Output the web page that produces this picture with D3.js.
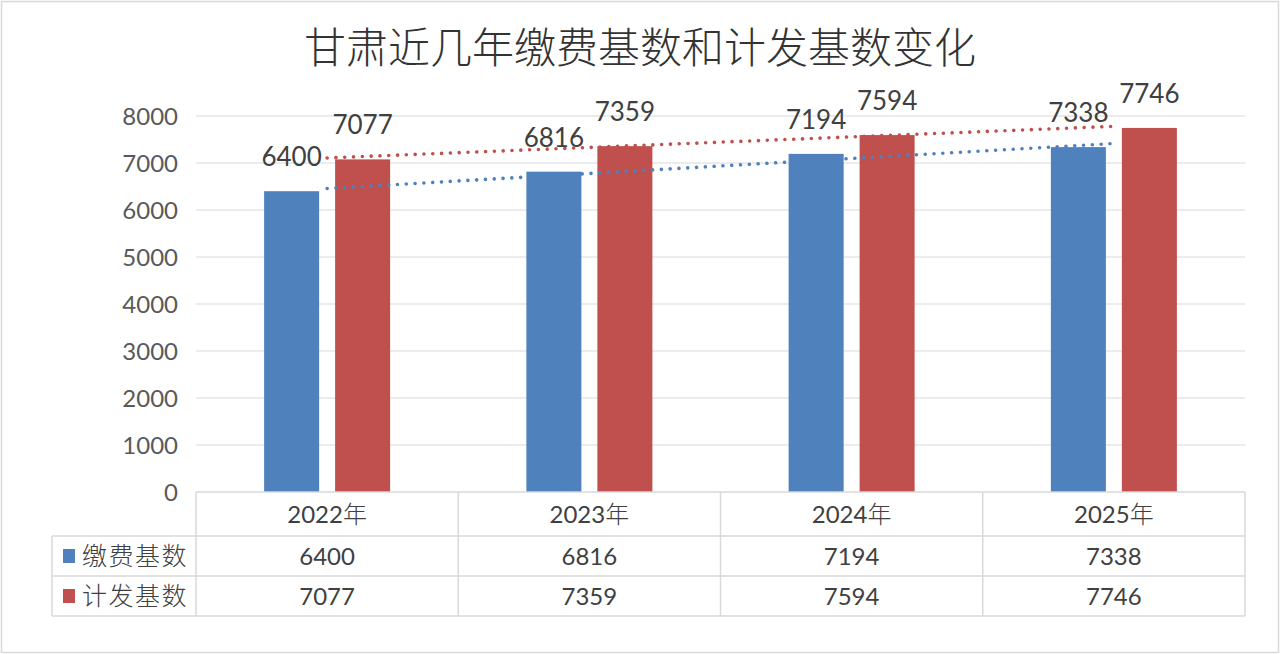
<!DOCTYPE html>
<html><head><meta charset="utf-8">
<script src="https://cdn.jsdelivr.net/npm/d3@7/dist/d3.min.js"></script>
<style>
html,body{margin:0;padding:0;background:#fff;}
text{font-family:"Noto Sans CJK SC","Noto Sans",sans-serif;}
.num{font-family:Lato,"Noto Sans",sans-serif;}
.cjk{font-family:"Noto Sans CJK SC",sans-serif;font-weight:300;}
</style></head>
<body>
<svg id="chart" width="1280" height="654"></svg>
<script>
const title = "甘肃近几年缴费基数和计发基数变化";
const categories = ["2022年","2023年","2024年","2025年"];
const seriesNames = ["缴费基数","计发基数"];
const payBase = [6400, 6816, 7194, 7338];
const pensionBase = [7077, 7359, 7594, 7746];
const yTicks = [0,1000,2000,3000,4000,5000,6000,7000,8000];
const colors = ["#4F81BD","#C0504D"];
const seriesValues = [payBase, pensionBase];

(function(){
const svg = d3.select("#chart");
const W = 1280, H = 654;
const pLeft = 196, pRight = 1245, pTop = 116, pBottom = 492;
const tableLeft = 52, rowH = [44, 40, 40];
const gridColor = "#d9d9d9";

svg.append("rect").attr("x",1.5).attr("y",1.5).attr("width",W-3).attr("height",H-3)
  .attr("fill","#fff").attr("stroke","#d9d9d9").attr("stroke-width",1.5);

svg.append("text").attr("class","cjk").attr("x",640).attr("y",63).attr("text-anchor","middle")
  .attr("font-size",42).attr("fill","#333").text(title);

const y = d3.scaleLinear().domain([0,8000]).range([pBottom, pTop]);
const x = d3.scaleBand().domain(categories).range([pLeft, pRight]);
const bw = x.bandwidth();
const x1 = d3.scaleBand().domain(seriesNames).range([bw/2-63, bw/2+63]).paddingInner(0.225);

// grid
svg.append("g").selectAll("line").data(yTicks.filter(t=>t>0)).join("line")
  .attr("x1",pLeft).attr("x2",pRight).attr("y1",d=>y(d)).attr("y2",d=>y(d))
  .attr("stroke",gridColor).attr("stroke-width",1);

// y axis labels
const yAxis = d3.axisLeft(y).tickValues(yTicks).tickSize(0).tickPadding(18).tickFormat(d3.format("d"));
const ga = svg.append("g").attr("transform",`translate(${pLeft},0)`).call(yAxis);
ga.select(".domain").remove();
ga.selectAll("text").attr("class","num").attr("font-size",24).attr("fill","#595959").attr("dy","0.36em");

// bars
seriesNames.forEach((s,si)=>{
  const vals = seriesValues[si];
  svg.append("g").selectAll("rect").data(categories).join("rect")
    .attr("x",(c)=>x(c)+x1(s)).attr("width",x1.bandwidth())
    .attr("y",(c,i)=>y(vals[i])).attr("height",(c,i)=>pBottom-y(vals[i]))
    .attr("fill",colors[si]);
});

// trendlines (linear regression)
seriesNames.forEach((s,si)=>{
  const vals = seriesValues[si];
  const n = vals.length, mx = (n-1)/2, my = d3.mean(vals);
  let num=0, den=0;
  vals.forEach((v,i)=>{num+=(i-mx)*(v-my); den+=(i-mx)*(i-mx);});
  const slope = num/den, icpt = my - slope*mx;
  const pts = [0, n-1].map(i=>[x(categories[i])+bw/2, y(icpt+slope*i)]);
  svg.append("path").attr("d",d3.line()(pts)).attr("fill","none")
    .attr("stroke",colors[si]).attr("stroke-width",3.6)
    .attr("stroke-linecap","round").attr("stroke-dasharray","0.01 8.8");
});

// data labels
seriesNames.forEach((s,si)=>{
  const vals = seriesValues[si];
  svg.append("g").selectAll("text").data(categories).join("text")
    .attr("class","num")
    .attr("x",c=>x(c)+x1(s)+x1.bandwidth()/2).attr("y",(c,i)=>y(vals[i])-25)
    .attr("text-anchor","middle").attr("font-size",26).attr("fill","#404040")
    .text((c,i)=>vals[i]);
});

// data table
const r0 = pBottom, r1 = r0+rowH[0], r2 = r1+rowH[1], r3 = r2+rowH[2];
const tg = svg.append("g").attr("stroke",gridColor).attr("stroke-width",1.5);
tg.append("line").attr("x1",pLeft).attr("x2",pRight).attr("y1",r0).attr("y2",r0);
[r1,r2,r3].forEach(r=>tg.append("line").attr("x1",tableLeft).attr("x2",pRight).attr("y1",r).attr("y2",r));
tg.append("line").attr("x1",tableLeft).attr("x2",tableLeft).attr("y1",r1).attr("y2",r3);
[...categories.map(c=>x(c)), pRight].forEach(xx=>tg.append("line").attr("x1",xx).attr("x2",xx).attr("y1",r0).attr("y2",r3));

const catG = svg.append("g").selectAll("text").data(categories).join("text")
  .attr("x",c=>x(c)+bw/2).attr("y",(r0+r1)/2).attr("dy","0.36em")
  .attr("text-anchor","middle").attr("font-size",24).attr("fill","#404040");
catG.append("tspan").attr("class","num").text(c=>c.replace("年",""));
catG.append("tspan").attr("class","cjk").text("年");

const rowsY = [(r1+r2)/2, (r2+r3)/2];
seriesNames.forEach((s,si)=>{
  svg.append("rect").attr("x",63).attr("y",rowsY[si]-7).attr("width",12).attr("height",14).attr("fill",colors[si]);
  svg.append("text").attr("class","cjk").attr("x",82).attr("y",rowsY[si]).attr("dy","0.36em")
    .attr("font-size",25).attr("letter-spacing",1.5).attr("fill","#404040").text(s);
  svg.append("g").selectAll("text").data(categories).join("text")
    .attr("class","num")
    .attr("x",c=>x(c)+bw/2).attr("y",rowsY[si]).attr("dy","0.36em")
    .attr("text-anchor","middle").attr("font-size",24).attr("fill","#404040")
    .text((c,i)=>seriesValues[si][i]);
});
})();
</script>
</body></html>
